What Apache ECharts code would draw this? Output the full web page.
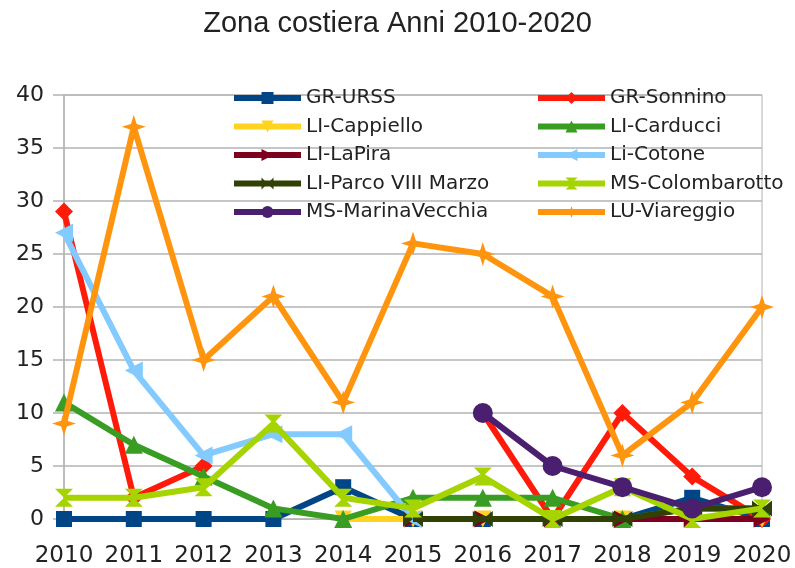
<!DOCTYPE html>
<html>
<head>
<meta charset="utf-8">
<script src="https://cdn.jsdelivr.net/npm/echarts@6/dist/echarts.min.js"></script>
<style>
html,body{margin:0;padding:0;background:#fff;}
#chart{width:795px;height:568px;}
</style>
</head>
<body>
<div id="chart"></div>
<script>
// ---- data ----
const years = ['2010','2011','2012','2013','2014','2015','2016','2017','2018','2019','2020'];
const seriesNames = ['GR-URSS','GR-Sonnino','LI-Cappiello','LI-Carducci','LI-LaPira','Li-Cotone','LI-Parco VIII Marzo','MS-Colombarotto','MS-MarinaVecchia','LU-Viareggio'];
const grUrss        = [0, 0, 0, 0, 3, 0, 0, 0, 0, 2, 0];
const grSonnino     = [29, 2, 5, null, null, null, 10, 0, 10, 4, 0];
const liCappiello   = [null, null, null, null, 0, 0, 0, 0, 0, 0, 0];
const liCarducci    = [11, 7, 4, 1, 0, 2, 2, 2, 0, 1, 1];
const liLaPira      = [null, null, null, null, null, 0, 0, 0, 0, 0, 0];
const liCotone      = [27, 14, 6, 8, 8, 0, null, null, null, null, null];
const liParco       = [null, null, null, null, null, 0, 0, 0, 0, 1, 1];
const msColombarotto= [2, 2, 3, 9, 2, 1, 4, 0, 3, 0, 1];
const msMarina      = [null, null, null, null, null, null, 10, 5, 3, 1, 3];
const luViareggio   = [9, 37, 15, 21, 11, 26, 25, 21, 6, 11, 20];
const yTicks = {min: 0, max: 40, interval: 5};

const seriesValues = [grUrss, grSonnino, liCappiello, liCarducci, liLaPira, liCotone, liParco, msColombarotto, msMarina, luViareggio];

// ---- styles ----
const colors = ['#004586','#ff1a0a','#ffd320','#3a9d23','#7e0021','#83caff','#314004','#a6d400','#4b1f6f','#ff950e'];
const symbols = [
  'rect',
  'diamond',
  'path://M0,0 L10,0 L5,10 Z',
  'triangle',
  'path://M0,0 L10,5 L0,10 Z',
  'path://M10,0 L0,5 L10,10 Z',
  'path://M0,0 L10,5 L0,10 Z M20,0 L20,10 L10,5 Z',
  'path://M0,0 L10,0 L5,5 L10,10 L0,10 L5,5 Z',
  'circle',
  'path://M5,0 L6.2,3.8 L10,5 L6.2,6.2 L5,10 L3.8,6.2 L0,5 L3.8,3.8 Z'
];
const symbolSizes = [16, 18, 17, 18, 17, 18, [20,16], [18,18], 20, 24];

const series = seriesNames.map((name, i) => ({
  name: name,
  type: 'line',
  data: seriesValues[i],
  connectNulls: false,
  symbol: symbols[i],
  symbolSize: symbolSizes[i],
  showAllSymbol: true,
  lineStyle: {color: colors[i], width: 6},
  itemStyle: {color: colors[i]},
  z: 2 + i
}));

const legendText = {fontFamily: 'DejaVu Sans', fontSize: 20, color: '#222', lineHeight: 20};
const legendCommon = {
  orient: 'vertical', top: 83,
  itemWidth: 67, itemHeight: 15, itemGap: 8.5,
  lineStyle: {width: 6},
  textStyle: legendText
};

const chart = echarts.init(document.getElementById('chart'), null, {renderer: 'canvas'});
chart.setOption({
  animation: false,
  backgroundColor: '#fff',
  color: colors,
  title: {
    text: 'Zona costiera Anni 2010-2020',
    left: 'center',
    top: 4,
    textStyle: {fontFamily: 'Liberation Sans', fontSize: 29, fontWeight: 'normal', color: '#222'}
  },
  legend: [
    Object.assign({}, legendCommon, {
      data: [seriesNames[0], seriesNames[2], seriesNames[4], seriesNames[6], seriesNames[8]],
      left: 226
    }),
    Object.assign({}, legendCommon, {
      data: [seriesNames[1], seriesNames[3], seriesNames[5], seriesNames[7], seriesNames[9]],
      left: 530
    })
  ],
  grid: {
    left: 64, right: 33, top: 95, bottom: 49,
    show: true, borderColor: '#b3b3b3', borderWidth: 1
  },
  xAxis: {
    type: 'category',
    data: years,
    boundaryGap: false,
    axisLine: {show: true, lineStyle: {color: '#b3b3b3', width: 1}},
    axisTick: {show: false},
    splitLine: {show: false},
    axisLabel: {fontFamily: 'DejaVu Sans', fontSize: 23, color: '#222', margin: 26, interval: 0}
  },
  yAxis: {
    type: 'value',
    min: yTicks.min, max: yTicks.max, interval: yTicks.interval,
    axisLine: {show: true, lineStyle: {color: '#b3b3b3', width: 1.5}},
    axisTick: {show: true, length: 11, lineStyle: {color: '#b3b3b3', width: 1.5}},
    splitLine: {show: true, lineStyle: {color: '#b3b3b3', width: 1.5}},
    axisLabel: {fontFamily: 'DejaVu Sans', fontSize: 22, color: '#222', margin: 20}
  },
  series: series
});
</script>
</body>
</html>
